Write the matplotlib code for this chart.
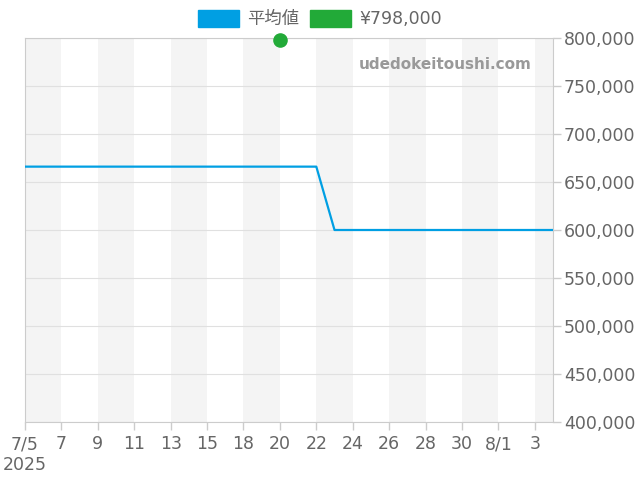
import numpy as np
import matplotlib.pyplot as plt
from matplotlib.patches import Patch

plt.rcParams['font.family'] = ['DejaVu Sans', 'Noto Sans CJK JP']

# Dates on the x axis (one date, 7/16, is missing from the data)
dates = ['7/5', '7/6', '7/7', '7/8', '7/9', '7/10', '7/11', '7/12', '7/13', '7/14',
         '7/15', '7/17', '7/18', '7/19', '7/20', '7/21', '7/22', '7/23', '7/24', '7/25',
         '7/26', '7/27', '7/28', '7/29', '7/30', '7/31', '8/1', '8/2', '8/3', '8/4']
tick_labels = ['7/5\n2025', '7', '9', '11', '13', '15', '18', '20', '22', '24',
               '26', '28', '30', '8/1', '3']

# average price
avg_price = [666000] * 17 + [600000] * 13

# single listing
point_date = '7/20'
point_price = 798000

x = np.arange(len(dates))

fig = plt.figure(figsize=(6.4, 4.8), dpi=100)
ax = fig.add_axes([25 / 640, 1 - 422 / 480, 528 / 640, 384 / 480])

# alternating background bands
for i in range(0, len(dates), 4):
    ax.axvspan(i, min(i + 2, len(dates) - 1), color='#f4f4f4', zorder=0, lw=0)

ax.plot(x, avg_price, color='#009fe3', lw=1.6, zorder=3)
ax.scatter([dates.index(point_date)], [point_price], color='#22aa38', s=90,
           zorder=4, clip_on=False)

ax.set_xlim(0, len(dates) - 1)
ax.set_ylim(400000, 800000)
ax.set_xticks(x[::2])
ax.set_xticklabels(tick_labels)
yt = np.arange(400000, 800001, 50000)
ax.set_yticks(yt)
ax.set_yticklabels([f'{v:,}' for v in yt])
ax.yaxis.tick_right()
ax.tick_params(axis='both', colors='#cccccc', labelcolor='#666666', labelsize=12.5,
               length=6, width=1)
ax.tick_params(axis='y', pad=2)
ax.grid(axis='y', color='#e0e0e0', lw=0.8, zorder=1)
for s in ax.spines.values():
    s.set_color('#cccccc')

ax.text(0.96, 0.93, 'udedokeitoushi.com', transform=ax.transAxes, ha='right',
        va='center', fontsize=11, fontweight='bold', color='#999999')

handles = [Patch(color='#009fe3', label='平均値'), Patch(color='#22aa38', label='¥798,000')]
fig.legend(handles=handles, loc='center', bbox_to_anchor=(320 / 640, 1 - 19 / 480),
           ncol=2, frameon=False, fontsize=12.5, labelcolor='#666666',
           handlelength=2.35, handleheight=1.1, columnspacing=0.6, handletextpad=0.5)

fig.savefig('out.png', dpi=100)
